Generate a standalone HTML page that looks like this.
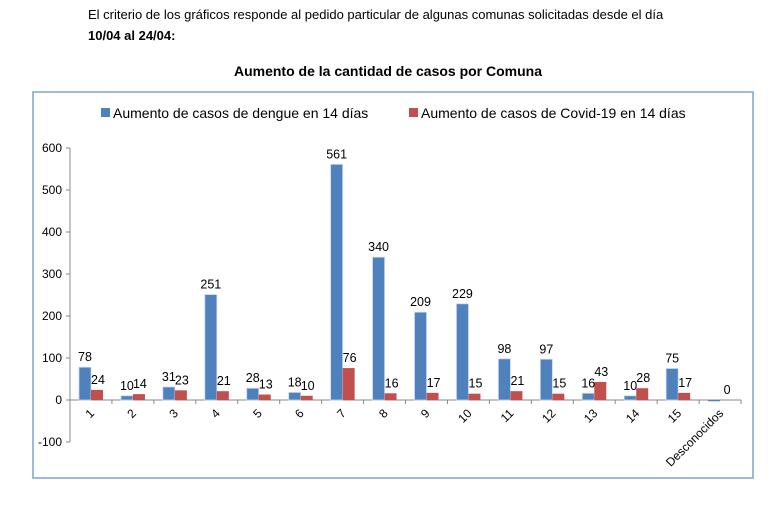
<!DOCTYPE html>
<html><head><meta charset="utf-8"><style>
body{margin:0;background:#fff;width:776px;height:507px;overflow:hidden;font-family:"Liberation Sans",sans-serif}
</style></head><body>
<svg width="776" height="507" xmlns="http://www.w3.org/2000/svg" font-family="Liberation Sans, sans-serif">
<text x="88" y="19" font-size="13" fill="#000">El criterio de los gráficos responde al pedido particular de algunas comunas solicitadas desde el día</text>
<text x="88" y="40" font-size="13" font-weight="bold" fill="#000">10/04 al 24/04:</text>
<text x="388" y="76" font-size="14" font-weight="bold" text-anchor="middle" fill="#000">Aumento de la cantidad de casos por Comuna</text>
<rect x="33" y="92" width="720" height="386" fill="none" stroke="#7aa3d6" stroke-width="1.5"/>
<rect x="101" y="108" width="9" height="9" fill="#4f81bd"/>
<text x="113" y="118" font-size="14" fill="#000">Aumento de casos de dengue en 14 días</text>
<rect x="409" y="108" width="9" height="9" fill="#c0504d"/>
<text x="421" y="118" font-size="14" fill="#000">Aumento de casos de Covid-19 en 14 días</text>
<g id="chart"></g>
</svg>
<script>
const g=document.getElementById('chart');const ns='http://www.w3.org/2000/svg';
function el(t,a,txt){const e=document.createElementNS(ns,t);for(const k in a)e.setAttribute(k,a[k]);if(txt!==undefined)e.textContent=txt;g.appendChild(e);return e;}
const y0=400,s=0.42,x0=70,w=41.94;
el('line',{x1:x0,y1:148,x2:x0,y2:442,stroke:'#888'});
for(let v=-100;v<=600;v+=100){const y=y0-v*s;el('line',{x1:x0-4,y1:y,x2:x0,y2:y,stroke:'#888'});el('text',{x:x0-8,y:y+4,'font-size':'12','text-anchor':'end'},String(v));}
el('line',{x1:x0,y1:y0,x2:x0+16*w,y2:y0,stroke:'#888'});
const d=[78,10,31,251,28,18,561,340,209,229,98,97,16,10,75,-3];
const c=[24,14,23,21,13,10,76,16,17,15,21,15,43,28,17,0];
const lab=['1','2','3','4','5','6','7','8','9','10','11','12','13','14','15','Desconocidos'];
for(let i=0;i<16;i++){
 const cx=x0+i*w;
 el('line',{x1:cx+w,y1:y0,x2:cx+w,y2:y0+4,stroke:'#888'});
 const bx=cx+9,rx=cx+21;
 const dh=d[i]*s;
 if(d[i]>=0)el('rect',{x:bx,y:y0-dh,width:12,height:dh,fill:'#4f81bd',stroke:'#c6d6ec','stroke-width':'0.8'});
 else el('rect',{x:bx,y:y0,width:12,height:-dh,fill:'#4f81bd'});
 const ch=c[i]*s;
 el('rect',{x:rx,y:y0-ch,width:12,height:ch,fill:'#c0504d'});
 if(i<15)el('text',{x:bx+6,y:y0-Math.max(dh,0)-6,'font-size':'12.5','text-anchor':'middle'},String(d[i]));
 el('text',{x:rx+7,y:y0-ch-6,'font-size':'12.5','text-anchor':'middle'},String(c[i]));
 const lx=cx+w/2+4,ly=y0+14;
 el('text',{x:lx,y:ly,'font-size':'12','text-anchor':'end',transform:`rotate(-45 ${lx} ${ly})`},lab[i]);
}
</script>
</body></html>
